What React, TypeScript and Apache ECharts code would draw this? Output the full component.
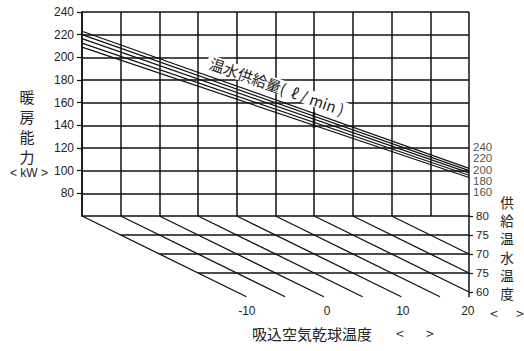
import React, { useEffect, useRef } from "react";
import * as echarts from "echarts";

// ---- data ----
const flowRates = ["240", "220", "200", "180", "160"]; // 温水供給量 ℓ/min
const capacityAtLeft = [223, 220, 216.5, 212.5, 209]; // kW at left edge of grid
const capacityAtRight = [102, 100, 98, 96, 94]; // kW at right edge of grid
const flowLabelValues = [121, 111, 101, 91, 81]; // where the flow labels sit on the kW scale
const capacityTicks = [80, 100, 120, 140, 160, 180, 200, 220, 240];
const waterTempLabels = ["80", "75", "70", "75", "60"];
const waterTempLevels = [0, 1, 2, 3, 4];
const airTempLabels = ["-10", "0", "10", "20"];
const airTempColumns = [4.26, 6.33, 8.29, 9.97];
const obliqueStarts = [0, 1, 2, 3, 4, 5, 6, 7, 8];
const lowerRows = [1, 2, 3];
const leftTitle = ["暖", "房", "能", "力"];
const rightTitle = ["供", "給", "温", "水", "温", "度"];

const NUM_FONT = "'Liberation Sans', Arial, sans-serif";
const CJK_FONT = "'Noto Sans CJK JP', sans-serif";
const INK = "#111";

export default function App() {
  const ref = useRef<HTMLDivElement>(null);
  useEffect(() => {
    if (!ref.current) return;
    const chart = echarts.init(ref.current, undefined, { renderer: "svg" });
    const LOW_MAX = 4.25;
    const series: any[] = [];
    flowRates.forEach((f, i) => {
      series.push({
        type: "line",
        name: f,
        xAxisIndex: 0,
        yAxisIndex: 0,
        symbol: "none",
        silent: true,
        lineStyle: { color: INK, width: 1.2 },
        data: [
          [0, capacityAtLeft[i]],
          [10, capacityAtRight[i]],
        ],
      });
    });
    series.push({
      type: "scatter",
      xAxisIndex: 0,
      yAxisIndex: 0,
      symbolSize: 0,
      silent: true,
      clip: false,
      data: flowLabelValues.map((v, i) => ({ value: [10, v], name: flowRates[i] })),
      label: {
        show: true,
        position: "right",
        distance: 4,
        formatter: (p: any) => p.name,
        fontFamily: NUM_FONT,
        fontSize: 11.5,
        color: "#222",
      },
    });
    obliqueStarts.forEach((c) => {
      const end = Math.min(c + LOW_MAX, 10);
      series.push({
        type: "line",
        xAxisIndex: 1,
        yAxisIndex: 1,
        symbol: "none",
        silent: true,
        clip: false,
        lineStyle: { color: INK, width: 1.3 },
        data: [
          [c, 0],
          [end, end - c],
        ],
      });
    });
    lowerRows.forEach((r) => {
      series.push({
        type: "line",
        xAxisIndex: 1,
        yAxisIndex: 1,
        symbol: "none",
        silent: true,
        lineStyle: { color: INK, width: 1.5 },
        data: [
          [r, r],
          [10, r],
        ],
      });
    });

    const charText = (ch: string, x: number, y: number, size: number) => ({
      type: "text",
      x,
      y,
      style: {
        text: ch,
        fontFamily: CJK_FONT,
        fontSize: size,
        fill: "#222",
        align: "center",
        verticalAlign: "middle",
      },
    });

    chart.setOption({
      animation: false,
      backgroundColor: "#fff",
      grid: [
        { left: 82, top: 12, width: 387, height: 204 },
        { left: 82, top: 216, width: 387, height: 19 * LOW_MAX },
      ],
      xAxis: [
        {
          gridIndex: 0,
          type: "value",
          min: 0,
          max: 10,
          interval: 1,
          axisLine: { show: true, onZero: false, lineStyle: { color: INK, width: 1.5 } },
          axisTick: { show: false },
          axisLabel: { show: false },
          splitLine: { show: true, lineStyle: { color: INK, width: 1.5 } },
        },
        {
          gridIndex: 1,
          type: "value",
          min: 0,
          max: 10,
          axisLine: { show: false, onZero: false },
          axisTick: { show: false },
          splitLine: { show: false },
          axisLabel: {
            show: true,
            customValues: airTempColumns,
            margin: 8,
            fontFamily: NUM_FONT,
            fontSize: 12,
            color: "#222",
            formatter: (v: number) => {
              const k = airTempColumns.findIndex((c) => Math.abs(c - v) < 1e-6);
              return k >= 0 ? airTempLabels[k] : "";
            },
          },
        },
      ],
      yAxis: [
        {
          gridIndex: 0,
          type: "value",
          min: 60,
          max: 240,
          interval: 10,
          axisLine: { show: true, onZero: false, lineStyle: { color: INK, width: 1.5 } },
          axisTick: {
            show: true,
            customValues: capacityTicks,
            length: 5,
            lineStyle: { color: INK, width: 1.2 },
          },
          axisLabel: {
            show: true,
            customValues: capacityTicks,
            margin: 8,
            fontFamily: NUM_FONT,
            fontSize: 12,
            color: "#222",
          },
          splitLine: { show: true, lineStyle: { color: INK, width: 1.5 } },
        },
        {
          gridIndex: 1,
          type: "value",
          position: "right",
          inverse: true,
          min: 0,
          max: LOW_MAX,
          axisLine: { show: true, onZero: false, lineStyle: { color: INK, width: 1.5 } },
          axisTick: {
            show: true,
            customValues: waterTempLevels,
            length: 4,
            lineStyle: { color: INK, width: 1.2 },
          },
          splitLine: { show: false },
          axisLabel: {
            show: true,
            customValues: waterTempLevels,
            margin: 7,
            fontFamily: NUM_FONT,
            fontSize: 11.5,
            color: "#222",
            formatter: (v: number) => waterTempLabels[v] ?? "",
          },
        },
      ],
      series,
      graphic: [
        {
          type: "text",
          x: 277,
          y: 86,
          rotation: -0.34,
          z: 100,
          style: {
            text: "温水供給量(  ℓ / min )",
            fontFamily: CJK_FONT,
            fontSize: 15,
            fill: "#222",
            align: "center",
            verticalAlign: "middle",
            backgroundColor: "#fff",
            padding: [0, 3],
          },
        },
        {
          type: "line",
          z: 101,
          shape: { x1: 314, y1: 112, x2: 314, y2: 128 },
          style: { stroke: INK, lineWidth: 2.5 },
        },
        ...leftTitle.map((ch, i) => charText(ch, 27, 96 + i * 20, 15)),
        {
          type: "text",
          x: 29,
          y: 173,
          style: {
            text: "< kW >",
            fontFamily: NUM_FONT,
            fontSize: 12,
            fill: "#222",
            align: "center",
            verticalAlign: "middle",
          },
        },
        ...rightTitle.map((ch, i) => charText(ch, 507, 202 + i * 18.2, 13.5)),
        charText("<", 494, 313, 14),
        charText(">", 520, 313, 14),
        {
          type: "text",
          x: 252,
          y: 333,
          style: {
            text: "吸込空気乾球温度",
            fontFamily: CJK_FONT,
            fontSize: 15,
            fill: "#222",
            align: "left",
            verticalAlign: "middle",
          },
        },
        charText("<", 400, 333, 14),
        charText(">", 430, 333, 14),
      ],
    });
    return () => chart.dispose();
  }, []);
  return (
    <div
      ref={ref}
      style={{ position: "fixed", left: 0, top: 0, width: 524, height: 351 }}
    />
  );
}
